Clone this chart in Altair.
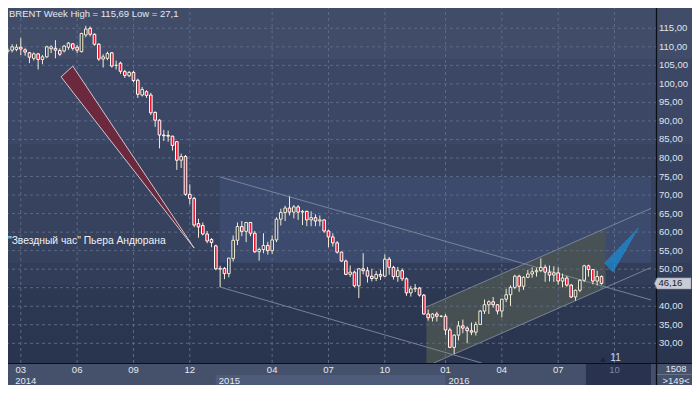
import altair as alt
import pandas as pd

# ---------------- data (weekly BRENT candles) ----------------
opens = [108.8, 109.1, 109.3, 109.9, 109.2, 108.4, 106.9, 108.1, 106.6, 107.3, 109.5, 109.6, 109.0, 108.9, 109.9, 110.8,
         109.9, 108.7, 113.2, 115.0, 113.4, 110.7, 106.7, 106.9, 108.4, 105.0, 105.6, 103.3, 102.2, 103.1, 101.0, 97.0,
         97.9, 97.0, 92.3, 90.2, 86.2, 86.1, 85.9, 84.4, 79.4, 80.4, 70.2, 69.1, 62.3, 61.8, 59.5, 58.0,
         56.3, 50.0, 50.2, 48.8, 52.9, 57.8, 61.5, 60.2, 62.6, 59.7, 54.7, 55.3, 56.4, 55.0, 57.9, 63.5,
         65.3, 66.5, 65.4, 66.8, 65.4, 65.6, 63.3, 63.9, 63.0, 63.3, 60.3, 58.7, 57.1, 54.6, 52.2, 48.6,
         49.2, 45.5, 50.1, 49.6, 48.1, 47.5, 48.6, 48.1, 52.7, 50.5, 48.0, 49.6, 47.4, 43.6, 44.7, 44.9,
         43.0, 37.9, 36.9, 37.9, 37.3, 37.3, 33.6, 28.9, 32.2, 34.7, 34.1, 33.4, 33.0, 35.1, 38.7, 40.4,
         41.2, 40.4, 38.7, 41.9, 43.1, 45.1, 48.1, 45.4, 47.8, 48.7, 49.3, 49.6, 50.5, 49.2, 48.4, 49.0,
         46.8, 47.6, 45.7, 42.5, 44.3, 47.0, 50.9, 49.9, 46.8, 48.0]
highs = [109.7, 110.7, 110.7, 112.4, 109.6, 108.6, 108.5, 108.3, 107.8, 110.3, 110.4, 111.8, 109.6, 110.5, 111.3, 111.0,
         110.5, 113.8, 115.69, 115.5, 113.6, 111.0, 108.0, 108.7, 108.6, 106.3, 106.0, 103.8, 103.5, 103.6, 101.4, 99.2,
         98.3, 97.6, 92.6, 90.5, 87.6, 87.4, 86.0, 84.6, 81.2, 80.8, 72.9, 69.5, 63.6, 62.6, 60.3, 58.4,
         56.6, 50.9, 50.6, 53.0, 59.1, 62.6, 63.0, 62.6, 62.7, 60.3, 55.8, 59.7, 57.4, 59.1, 64.0, 66.3,
         67.1, 69.6, 67.3, 67.3, 66.0, 65.8, 65.6, 64.8, 64.5, 63.4, 60.6, 59.7, 57.6, 54.8, 52.6, 51.0,
         49.6, 50.3, 54.3, 50.6, 50.1, 49.5, 49.8, 54.0, 53.3, 50.9, 50.6, 50.2, 47.8, 45.5, 46.0, 45.2,
         43.3, 39.1, 38.1, 38.5, 37.6, 37.9, 34.2, 32.4, 36.0, 36.4, 34.6, 35.6, 35.8, 39.0, 41.8, 41.6,
         42.5, 40.6, 42.0, 44.7, 45.6, 48.5, 48.5, 48.1, 49.8, 50.5, 50.4, 52.9, 51.2, 51.0, 50.8, 50.5,
         48.8, 48.2, 46.0, 44.5, 47.3, 51.2, 51.2, 50.0, 49.6, 48.3]
lows = [108.2, 108.5, 108.8, 107.8, 107.6, 105.6, 106.3, 103.9, 105.3, 107.0, 108.3, 106.9, 107.5, 108.5, 109.2, 109.0,
        108.3, 108.5, 112.6, 112.8, 110.3, 106.2, 104.4, 106.4, 104.4, 103.9, 102.7, 101.6, 101.8, 100.4, 96.2, 96.6,
        96.2, 91.6, 88.4, 82.6, 84.6, 84.4, 82.0, 76.8, 77.3, 69.8, 67.5, 61.3, 58.5, 59.1, 57.0, 55.9,
        49.7, 45.2, 47.3, 47.8, 52.1, 56.5, 58.9, 57.3, 58.9, 54.4, 52.3, 54.3, 53.9, 54.1, 57.3, 61.8,
        63.0, 64.5, 63.7, 63.3, 61.9, 61.6, 61.6, 61.6, 61.6, 59.8, 55.9, 56.1, 54.2, 52.0, 48.4, 47.9,
        45.1, 42.2, 48.6, 46.4, 46.7, 46.8, 47.1, 47.9, 48.5, 47.2, 46.6, 46.8, 42.8, 42.6, 43.8, 42.6,
        37.7, 36.1, 35.9, 35.9, 37.0, 32.2, 28.8, 27.1, 30.8, 32.7, 30.0, 32.2, 32.1, 35.0, 37.9, 37.9,
        39.6, 37.8, 37.0, 41.1, 40.1, 44.6, 43.9, 44.4, 47.6, 47.7, 48.0, 49.2, 46.6, 46.7, 46.6, 45.8,
        45.1, 45.3, 42.2, 41.5, 43.8, 46.5, 48.0, 45.9, 45.6, 45.8]
closes = [109.1, 110.0, 109.9, 109.4, 108.6, 107.2, 108.1, 106.6, 107.3, 110.0, 110.0, 109.1, 108.0, 110.2, 111.0, 109.6,
          109.1, 113.6, 114.8, 113.4, 110.7, 106.7, 107.3, 108.2, 104.8, 105.0, 103.4, 102.3, 103.1, 100.9, 97.2, 98.5,
          96.9, 92.2, 90.2, 86.2, 86.0, 85.9, 83.4, 79.4, 80.4, 70.2, 69.1, 61.9, 61.4, 59.5, 57.6, 57.2,
          50.1, 50.2, 48.8, 53.0, 57.8, 61.5, 60.2, 62.6, 59.7, 54.7, 55.3, 56.4, 55.0, 57.9, 63.5, 65.3,
          66.5, 65.4, 66.8, 65.4, 65.6, 63.3, 63.9, 63.0, 63.3, 60.3, 58.7, 57.1, 54.6, 52.2, 48.6, 49.2,
          45.5, 50.1, 49.6, 48.1, 47.5, 48.6, 48.1, 52.7, 50.5, 48.0, 49.6, 47.4, 43.6, 44.7, 44.9, 43.0,
          37.9, 36.9, 37.9, 37.3, 37.3, 33.6, 28.9, 32.2, 34.7, 34.1, 33.4, 33.0, 35.1, 38.7, 40.4, 41.2,
          40.4, 38.7, 41.9, 43.1, 45.1, 48.1, 45.4, 47.8, 48.7, 49.3, 49.6, 50.5, 49.2, 48.4, 49.0, 46.8,
          47.6, 45.7, 42.5, 44.3, 47.0, 50.9, 49.9, 46.8, 48.0, 46.16]

# one bar per week; the weeks that cross New Year are split in two bars
bar_dates = (list(pd.date_range("2014-02-10", "2014-12-29", freq="W-MON").strftime("%Y-%m-%d"))
             + ["2015-01-02"]
             + list(pd.date_range("2015-01-05", "2015-12-28", freq="W-MON").strftime("%Y-%m-%d"))
             + ["2016-01-01"]
             + list(pd.date_range("2016-01-04", "2016-09-12", freq="W-MON").strftime("%Y-%m-%d")))

tick_dates = ["2014-03-03", "2014-06-02", "2014-09-01", "2014-12-01", "2015-04-06", "2015-07-06",
              "2015-10-05", "2016-01-04", "2016-04-04", "2016-07-04", "2016-10-03"]
tick_labels = ["03", "06", "09", "12", "04", "07", "10", "01", "04", "07", "10"]
year_labels = ["2014", "2015", "2016"]
year_dates = ["2014-02-17", "2015-01-05", "2016-01-04"]
price_ticks = list(range(30, 116, 5))
last_price = 46.16

# analyst drawings, in (bar slot, price)
red_wedge = {"k": [12.3, 15.0, 43.0], "lo": [101.9, 97.8, 55.7], "hi": [101.9, 104.8, 55.7]}
blue_wedge = {"k": [137.7, 139.6, 145.5], "lo": [51.7, 49.2, 61.1], "hi": [51.7, 53.9, 61.1]}
channel_lines = {"line": ["du", "du", "dl", "dl", "au", "au", "al", "al"],
                 "k": [48.9, 148.42, 48.9, 109.35, 96.6, 148.42, 98.3, 148.42],
                 "v": [74.9, 41.7, 45.2, 24.68, 39.8, 66.4, 24.68, 50.45]}
desc_box = {"k0": [48.9], "k1": [148.42], "v0": [51.7], "v1": [74.9]}
asc_fill = {"k": [96.6, 98.3, 137.96], "lo": [24.68, 24.68, 45.07], "hi": [39.8, 40.66, 61.0]}
future_from_k = 133.4

# ---------------- helpers ----------------
def slot(d):
    if d in bar_dates:
        return bar_dates.index(d)
    return len(bar_dates) - 1 + (pd.Timestamp(d) - pd.Timestamp(bar_dates[-1])).days // 7

candles = pd.DataFrame({"k": range(len(bar_dates)), "date": bar_dates, "open": opens,
                        "high": highs, "low": lows, "close": closes})
tick_k = [slot(d) for d in tick_dates]

FONT = "Liberation Sans"
xs = alt.Scale(domain=[0, 148.42], range=[2.797, 656], nice=False, zero=False)
ys = alt.Scale(domain=[24.68, 122.64], range=[363, 0], nice=False, zero=False)
X = lambda f: alt.X(f, scale=xs, axis=None)
Y = lambda f: alt.Y(f, scale=ys, axis=None)

gradient = alt.LinearGradient(gradient="linear", x1=0, y1=0, x2=0, y2=1, stops=[
    alt.GradientStop(offset=0.0, color="#414d68"), alt.GradientStop(offset=0.153, color="#414d68"),
    alt.GradientStop(offset=0.153, color="#3b4764"), alt.GradientStop(offset=0.374, color="#3b4764"),
    alt.GradientStop(offset=0.374, color="#37435f"), alt.GradientStop(offset=0.683, color="#35415d"),
    alt.GradientStop(offset=0.683, color="#323d59"), alt.GradientStop(offset=0.740, color="#323d59"),
    alt.GradientStop(offset=0.740, color="#2d3853"), alt.GradientStop(offset=1.0, color="#28324d")])

one = pd.DataFrame({"a": [0]})

# ---------------- layers ----------------
bg = alt.Chart(one).mark_rect(fill=gradient).encode(
    x=alt.value(0), x2=alt.value(692), y=alt.value(0), y2=alt.value(385))
box = alt.Chart(pd.DataFrame(desc_box)).mark_rect(fill="#3c4a6d").encode(
    x=X("k0:Q"), x2="k1:Q", y=Y("v0:Q"), y2="v1:Q")
green = alt.Chart(pd.DataFrame(asc_fill)).mark_area(fill="#4a5351", opacity=0.88).encode(
    x=X("k:Q"), y=Y("lo:Q"), y2="hi:Q")

hgrid = alt.Chart(pd.DataFrame({"v": price_ticks})).mark_rule(
    color="#5d6985", strokeWidth=1, strokeDash=[3, 3]).encode(
    y=Y("v:Q"), x=alt.value(0), x2=alt.value(656))
vgrid = alt.Chart(pd.DataFrame({"k": tick_k})).mark_rule(
    color="#5d6985", strokeWidth=1, strokeDash=[3, 3]).encode(
    x=X("k:Q"), y=alt.value(0), y2=alt.value(363))

lines = alt.Chart(pd.DataFrame(channel_lines)).mark_line(
    color="#808a9e", strokeWidth=1, opacity=0.9).encode(
    x=X("k:Q"), y=Y("v:Q"), detail="line:N")

redw = alt.Chart(pd.DataFrame(red_wedge)).mark_area(
    fill="#6c283d", stroke="#cfc8cf", strokeWidth=1).encode(x=X("k:Q"), y=Y("lo:Q"), y2="hi:Q")
bluew = alt.Chart(pd.DataFrame(blue_wedge)).mark_area(
    fill="#1a8bd2", opacity=0.75, stroke="#2aa5e8", strokeWidth=1, strokeDash=[1, 1]).encode(
    x=X("k:Q"), y=Y("lo:Q"), y2="hi:Q")

base = alt.Chart(candles)
wick = base.mark_rule(color="#f1ebd2", strokeWidth=1).encode(
    x=X("k:Q"), y=Y("low:Q"), y2="high:Q")
body = base.mark_bar(size=2.6, strokeWidth=1).encode(
    x=X("k:Q"), y=Y("open:Q"), y2="close:Q",
    fill=alt.condition("datum.close >= datum.open", alt.value("#34405c"), alt.value("#e3162f")),
    stroke=alt.condition("datum.close >= datum.open", alt.value("#f3edcf"), alt.value("#ffffff")))

band = alt.Chart(one).mark_rect(fill="#45506b").encode(
    x=alt.value(0), x2=alt.value(692), y=alt.value(363), y2=alt.value(385))
yr_df = pd.DataFrame({"k0": [slot(year_dates[1])], "k1": [slot(year_dates[2])]})
yr_band = alt.Chart(yr_df).mark_rect(fill="#4f5b7a").encode(
    x=X("k0:Q"), x2="k1:Q", y=alt.value(375), y2=alt.value(385))
fut = alt.Chart(pd.DataFrame({"k0": [future_from_k], "k1": [148.42]})).mark_rect(fill="#29334f").encode(
    x=X("k0:Q"), x2="k1:Q", y=alt.value(363), y2=alt.value(385))
vline = alt.Chart(one).mark_rule(color="#0b0f18", strokeWidth=1.3).encode(
    x=alt.value(656.5), y=alt.value(0), y2=alt.value(385))
hline = alt.Chart(one).mark_rule(color="#0b0f18", strokeWidth=1).encode(
    x=alt.value(0), x2=alt.value(692), y=alt.value(363.5))
sep = alt.Chart(one).mark_rule(color="#66718b", strokeWidth=1).encode(
    x=alt.value(657), x2=alt.value(692), y=alt.value(374.5))

# price labels (right axis); the one under the last-price tag is hidden by it
shown_ticks = [v for v in price_ticks if abs(v - last_price) > 2.5]
ylab = alt.Chart(pd.DataFrame({"v": shown_ticks,
                               "t": [("%.2f" % v).replace(".", ",") for v in shown_ticks]})).mark_text(
    align="left", baseline="middle", font=FONT, fontSize=9.5, color="#dfe4ee").encode(
    x=alt.value(659), y=Y("v:Q"), text="t:N")
# month labels (bottom axis)
xlab = alt.Chart(pd.DataFrame({"k": tick_k, "t": tick_labels})).mark_text(
    align="center", baseline="middle", font=FONT, fontSize=9.5).encode(
    x=X("k:Q"), y=alt.value(369.5), text="t:N",
    color=alt.condition("datum.k >= %s" % future_from_k, alt.value("#7d88a0"), alt.value("#e6eaf1")))
years = alt.Chart(pd.DataFrame({"t": year_labels, "k": [slot(d) for d in year_dates]})).mark_text(
    align="left", baseline="middle", dx=3, font=FONT, fontSize=9.5, color="#e6eaf1").encode(
    x=X("k:Q"), y=alt.value(380.5), text="t:N")

title_txt = "BRENT Week High = %s Low = %s" % (("%.2f" % max(highs)).replace(".", ","),
                                              ("%g" % min(lows)).replace(".", ","))
title = alt.Chart(pd.DataFrame({"t": [title_txt]})).mark_text(
    align="left", baseline="top", font=FONT, fontSize=9.5, color="#e3e8f1").encode(
    x=alt.value(9), y=alt.value(8.5), text="t:N")
note = alt.Chart(pd.DataFrame({"t": ["\"Звездный час\" Пьера Андюрана"]})).mark_text(
    align="left", baseline="alphabetic", font=FONT, fontSize=10.3, color="#eef1f6").encode(
    x=alt.value(8), y=alt.value(243.5), text="t:N")

info = alt.Chart(pd.DataFrame({"t": ["1508", ">149<"], "y": [369, 380.5]})).mark_text(
    align="center", baseline="middle", font=FONT, fontSize=9.5, color="#e3e8f1").encode(
    x=alt.value(676), y=alt.Y("y:Q", scale=None, axis=None), text="t:N")
tri = alt.Chart(one).mark_point(shape="triangle-up", filled=True, size=30, color="#1d2435", opacity=1).encode(
    x=alt.value(603), y=alt.value(359.5))
eleven = alt.Chart(pd.DataFrame({"t": ["11"]})).mark_text(
    align="center", baseline="middle", font=FONT, fontSize=10, color="#d3d9e5").encode(
    x=alt.value(615.5), y=alt.value(357.5), text="t:N")

tag_df = pd.DataFrame({"v": [last_price], "t": [("%.2f" % last_price).replace(".", ",")]})
tag = alt.Chart(tag_df).mark_point(
    shape="M-1,0L-0.863,-0.301L1,-0.301L1,0.301L-0.863,0.301Z", size=1332, filled=True,
    fill="#c7cbd4", stroke="#959cab", strokeWidth=0.6, opacity=1).encode(x=alt.value(672.75), y=Y("v:Q"))
tag_t = alt.Chart(tag_df).mark_text(
    align="left", baseline="middle", font=FONT, fontSize=9.5, color="#1a2132").encode(
    x=alt.value(658.5), y=Y("v:Q"), text="t:N")

chart = alt.layer(
    bg, box, green, hgrid, vgrid, lines, redw, bluew, wick, body,
    band, yr_band, fut, vline, hline, sep,
    ylab, xlab, years, title, note, info, tri, eleven, tag, tag_t
).properties(
    width=692, height=385,
    autosize=alt.AutoSizeParams(type="none"),
    padding={"left": -8, "top": -8, "right": 0, "bottom": 0},
).configure_view(strokeWidth=0)

chart.save("out.html", embed_options={"renderer": "svg", "actions": False})
